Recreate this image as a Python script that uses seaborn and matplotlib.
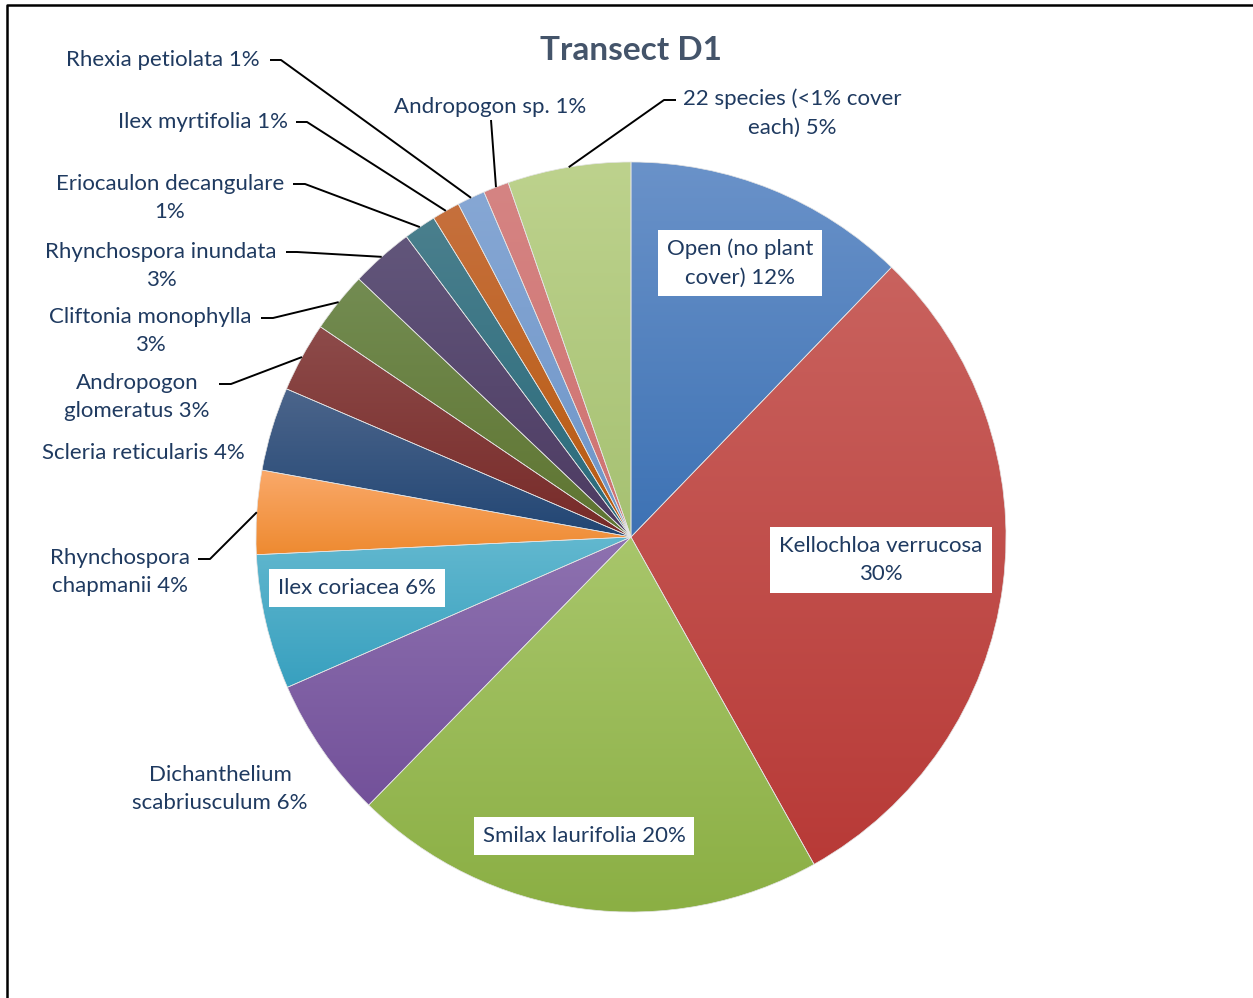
import numpy as np
import matplotlib.pyplot as plt
import matplotlib.colors as mcolors
import seaborn as sns

# canvas in pixels
W, H = 1253, 998

# data (percent cover, clockwise from 12 o'clock)
species = [
    "Open (no plant cover)", "Kellochloa verrucosa", "Smilax laurifolia",
    "Dichanthelium scabriusculum", "Ilex coriacea", "Rhynchospora chapmanii",
    "Scleria reticularis", "Andropogon glomeratus", "Cliftonia monophylla",
    "Rhynchospora inundata", "Eriocaulon decangulare", "Ilex myrtifolia",
    "Rhexia petiolata", "Andropogon sp.", "22 species (<1% cover each)",
]
cover = [12.2, 29.6, 20.4, 6.1, 5.8, 3.6, 3.6, 3.0, 2.6, 2.7, 1.4, 1.2, 1.2, 1.1, 5.3]

# label text as wrapped in the chart ({} -> rounded percent)
label_fmt = [
    "Open (no plant\ncover) {}%", "Kellochloa verrucosa\n{}%", "Smilax laurifolia {}%",
    "Dichanthelium\nscabriusculum {}%", "Ilex coriacea {}%", "Rhynchospora\nchapmanii {}%",
    "Scleria reticularis {}%", "Andropogon\nglomeratus {}%", "Cliftonia monophylla\n{}%",
    "Rhynchospora inundata\n{}%", "Eriocaulon decangulare\n{}%", "Ilex myrtifolia {}%",
    "Rhexia petiolata {}%", "Andropogon sp. {}%", "22 species (<1% cover\neach) {}%",
]

# gradient fills (top, bottom)
top_colors = ["#6A92C9", "#C9625E", "#A8C66B", "#8E72B0", "#62B8CF", "#FAA96A",
              "#4C658B", "#8D4B4A", "#738C52", "#62567B", "#4A7F8D", "#C6703D",
              "#86A7D4", "#D58483", "#BDD28D"]
bottom_colors = ["#3D72B4", "#B83A37", "#8BAF44", "#73519A", "#38A0BF", "#EE8A30",
                 "#224674", "#772A28", "#5E7430", "#4C3A61", "#296A7B", "#B85A0E",
                 "#6E95C8", "#CF7270", "#A6C172"]

# layout (pixel positions of label centres, y from top)
label_pos = [(740, 263), (881, 560), (584, 836), (220, 789), (357, 588), (120, 572),
             (143, 453), (137, 397), (150, 331), (161, 266), (170, 198), (203, 122),
             (163, 60), (490, 107), (792, 113)]
boxed = {0, 1, 2, 4}
# leader line label-side points (start, elbow)
leaders = {
    5: [(198, 559), (210, 559)],
    7: [(219, 384), (231, 384)],
    8: [(261, 318), (273, 318)],
    9: [(286, 252), (297, 252)],
    10: [(293, 184), (305, 184)],
    11: [(296, 122), (307, 122)],
    12: [(270, 60), (281, 60)],
    13: [(491, 120)],
    14: [(676, 100), (664, 100)],
}

TEXT = "#1F3A60"

sns.set_theme(style="white")
plt.rcParams["font.family"] = ["Lato", "DejaVu Sans"]

fig = plt.figure(figsize=(W / 100, H / 100), dpi=100)
ax = fig.add_axes([0, 0, 1, 1])

cx, cy, R = 631, H - 537, 375
wedges, _ = ax.pie(cover, startangle=90, counterclock=False, center=(cx, cy),
                   radius=R, wedgeprops=dict(linewidth=0.5, edgecolor="#E4E4E4"))

# vertical gradient per wedge, clipped to the wedge shape
for w, c_top, c_bot in zip(wedges, top_colors, bottom_colors):
    w.set_facecolor("none")
    ext = w.get_path().get_extents()
    t = np.linspace(0, 1, 200)[:, None]
    grad = (1 - t) * np.array(mcolors.to_rgb(c_top)) + t * np.array(mcolors.to_rgb(c_bot))
    im = ax.imshow(grad.reshape(200, 1, 3), extent=(ext.x0, ext.x1, ext.y0, ext.y1),
                   origin="upper", aspect="auto", interpolation="bilinear", zorder=0)
    im.set_clip_path(w)

ax.set_xlim(0, W)
ax.set_ylim(0, H)
ax.set_aspect("equal")
ax.axis("off")

# labels
for i, (fmt, v, (lx, ly)) in enumerate(zip(label_fmt, cover, label_pos)):
    txt = fmt.format(int(round(v)))
    kw = dict(ha="center", va="center", multialignment="center", fontsize=16,
              color=TEXT, linespacing=1.52, zorder=5)
    if i in boxed:
        kw["bbox"] = dict(boxstyle="square,pad=0.4", fc="white", ec="none")
    ax.text(lx, H - ly, txt, **kw)

# leader lines to the middle of each wedge's outer edge
for i, pts in leaders.items():
    w = wedges[i]
    mid = np.deg2rad((w.theta1 + w.theta2) / 2)
    ax_, ay_ = cx + R * np.cos(mid), cy + R * np.sin(mid)
    xs = [p[0] for p in pts] + [ax_]
    ys = [H - p[1] for p in pts] + [ay_]
    ax.plot(xs, ys, color="black", lw=1.4, zorder=4, solid_capstyle="butt")

ax.text(631, H - 50, "Transect D1", ha="center", va="center", fontsize=24,
        fontweight="bold", color="#44546A")

# chart border (left and top visible)
ax.plot([7, 7, W], [0, H - 5, H - 5], color="black", lw=1.8, clip_on=False)

fig.savefig("out.png", dpi=100)
